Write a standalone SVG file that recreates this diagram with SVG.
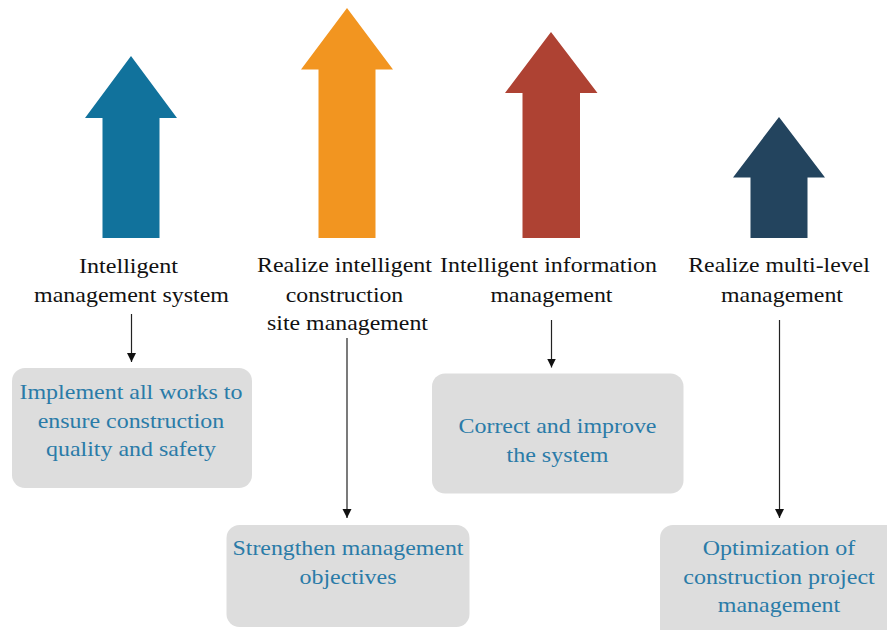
<svg xmlns="http://www.w3.org/2000/svg" width="887" height="630" viewBox="0 0 887 630">
<style>
text{font-family:'Liberation Serif','DejaVu Serif',serif;font-size:21px;text-anchor:middle}
.lbl{fill:#111}
.btx{fill:#2A7BA8}
.box{fill:#DDDDDD}
.con{stroke:#222;stroke-width:1.2;fill:none}
</style>
<defs>
<marker id="ah" markerWidth="10" markerHeight="10" refX="9" refY="5" orient="auto" markerUnits="userSpaceOnUse">
<path d="M0,0.5 L9,5 L0,9.5 Z" fill="#111"/>
</marker>
</defs>
<rect width="887" height="630" fill="#fff"/>
<g id="arrow1">
<polygon points="131,56 177,118 159.5,118 159.5,238 102.5,238 102.5,118 85,118" fill="#11729C"/>
<text class="lbl" x="128.5" y="273" textLength="99" lengthAdjust="spacingAndGlyphs">Intelligent</text>
<text class="lbl" x="131.5" y="302" textLength="195" lengthAdjust="spacingAndGlyphs">management system</text>
</g>
<g id="arrow2">
<polygon points="347,8 393,69.5 375.5,69.5 375.5,238 318.5,238 318.5,69.5 301,69.5" fill="#F29520"/>
<text class="lbl" x="344.5" y="272" textLength="175" lengthAdjust="spacingAndGlyphs">Realize intelligent</text>
<text class="lbl" x="344.5" y="301.5" textLength="117.5" lengthAdjust="spacingAndGlyphs">construction</text>
<text class="lbl" x="347.5" y="330" textLength="161" lengthAdjust="spacingAndGlyphs">site management</text>
</g>
<g id="arrow3">
<polygon points="551,32 597.5,93 580,93 580,238 522.5,238 522.5,93 505,93" fill="#AE4233"/>
<text class="lbl" x="548.5" y="272" textLength="217" lengthAdjust="spacingAndGlyphs">Intelligent information</text>
<text class="lbl" x="551.5" y="301.5" textLength="122" lengthAdjust="spacingAndGlyphs">management</text>
</g>
<g id="arrow4">
<polygon points="779,117 825,177.5 807.5,177.5 807.5,238 750.5,238 750.5,177.5 733,177.5" fill="#23445E"/>
<text class="lbl" x="779" y="272" textLength="181.5" lengthAdjust="spacingAndGlyphs">Realize multi-level</text>
<text class="lbl" x="782" y="301.5" textLength="122" lengthAdjust="spacingAndGlyphs">management</text>
</g>
<g id="box1">
<rect class="box" x="12" y="368" width="240" height="120" rx="13"/>
<text class="btx" x="131" y="399" textLength="223" lengthAdjust="spacingAndGlyphs">Implement all works to</text>
<text class="btx" x="131" y="427.5" textLength="186.5" lengthAdjust="spacingAndGlyphs">ensure construction</text>
<text class="btx" x="131" y="456" textLength="170" lengthAdjust="spacingAndGlyphs">quality and safety</text>
</g>
<g id="box2">
<rect class="box" x="226.5" y="525" width="243" height="102" rx="13"/>
<text class="btx" x="348" y="555" textLength="231" lengthAdjust="spacingAndGlyphs">Strengthen management</text>
<text class="btx" x="348" y="583.5" textLength="97" lengthAdjust="spacingAndGlyphs">objectives</text>
</g>
<g id="box3">
<rect class="box" x="432" y="373.5" width="251.5" height="120" rx="13"/>
<text class="btx" x="557.5" y="432.5" textLength="198" lengthAdjust="spacingAndGlyphs">Correct and improve</text>
<text class="btx" x="557.5" y="461.5" textLength="102" lengthAdjust="spacingAndGlyphs">the system</text>
</g>
<g id="box4">
<rect class="box" x="660" y="525" width="240" height="120" rx="13"/>
<text class="btx" x="779" y="555" textLength="152.5" lengthAdjust="spacingAndGlyphs">Optimization of</text>
<text class="btx" x="779" y="584" textLength="191.5" lengthAdjust="spacingAndGlyphs">construction project</text>
<text class="btx" x="779" y="612" textLength="122.5" lengthAdjust="spacingAndGlyphs">management</text>
</g>
<g id="connectors">
<line class="con" x1="131.5" y1="314" x2="131.5" y2="362" marker-end="url(#ah)"/>
<line class="con" x1="347" y1="338" x2="347" y2="518" marker-end="url(#ah)"/>
<line class="con" x1="551.5" y1="320" x2="551.5" y2="367.5" marker-end="url(#ah)"/>
<line class="con" x1="779.5" y1="320" x2="779.5" y2="518" marker-end="url(#ah)"/>
</g>
</svg>
